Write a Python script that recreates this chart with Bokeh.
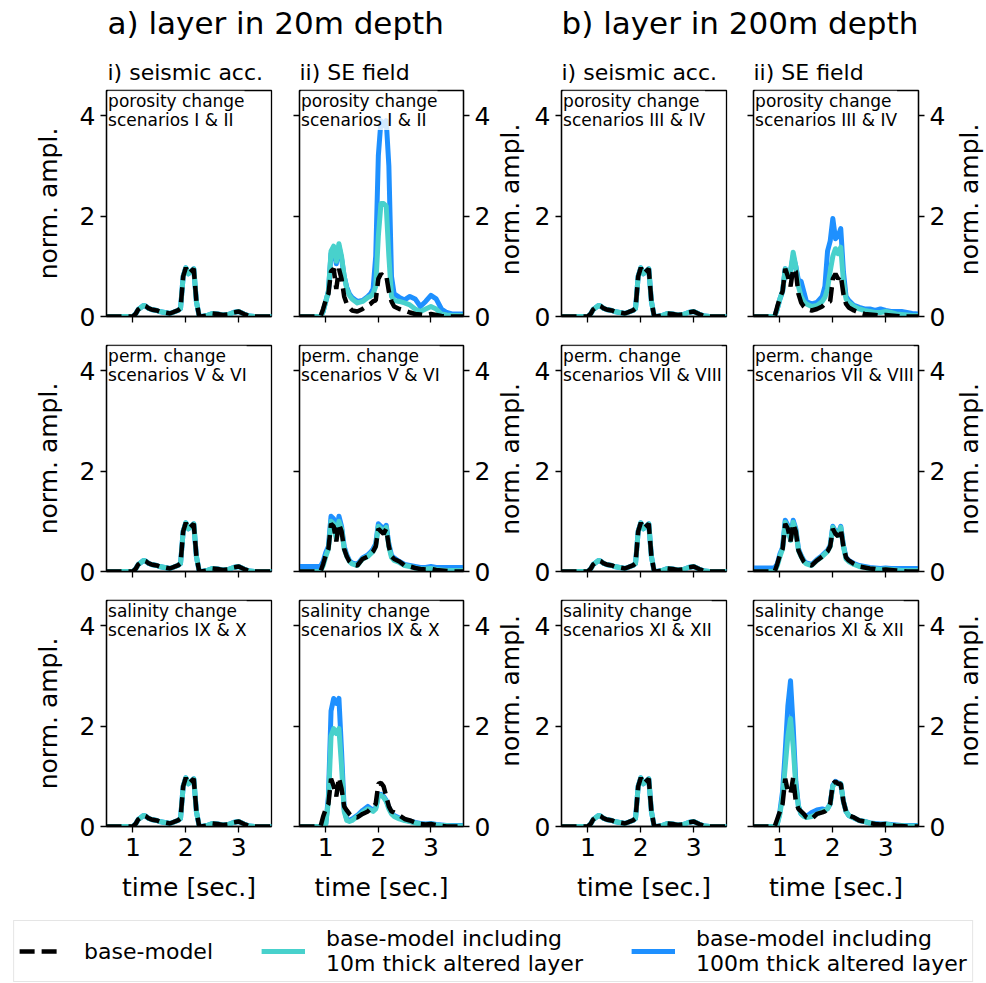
import math
from bokeh.plotting import figure
from bokeh.layouts import column, row
from bokeh.models import Range1d, FixedTicker, LinearAxis, Legend, LegendItem, Label
from bokeh.core.properties import value
from bokeh.embed import file_html
from bokeh.resources import INLINE

FONT = "DejaVu Sans"
BLUE = "#1e90ff"
TURQ = "#48d1cc"

# ---------------- data ----------------
T = [0.5, 0.9, 0.95, 1.0, 1.05, 1.1, 1.15, 1.2, 1.25, 1.3, 1.35, 1.4, 1.45, 1.5,
     1.6, 1.7, 1.8, 1.85, 1.9, 1.95, 2.0, 2.05, 2.1, 2.15, 2.2, 2.25, 2.3,
     2.4, 2.5, 2.6, 2.7, 2.8, 2.9, 3.0, 3.1, 3.2, 3.3, 3.4, 3.5, 3.62]

# seismic acceleration (all three models coincide)
SEIS_BASE = [0, 0, 0, 0, 0.05, 0.14, 0.18, 0.22, 0.2, 0.16, 0.14, 0.13, 0.12, 0.1,
             0.08, 0.06, 0.1, 0.12, 0.16, 0.8, 0.97, 0.85, 0.9, 0.95, 0.3, 0.02, 0.0,
             0.02, 0.06, 0.05, 0.03, 0.04, 0.08, 0.1, 0.05, 0.01, 0, 0, 0, 0]
SEIS_10M = SEIS_BASE
SEIS_100M = SEIS_BASE

# SE field, layer in 20 m depth
SE20_POR_BASE = [0, 0, 0.15, 0.33, 0.45, 0.9, 0.95, 0.55, 0.95, 0.75, 0.4, 0.25, 0.18, 0.12,
                 0.1, 0.15, 0.22, 0.25, 0.3, 0.32, 0.75, 0.85, 0.8, 0.82, 0.5, 0.3, 0.2,
                 0.15, 0.12, 0.08, 0.05, 0.04, 0.03, 0.05, 0.03, 0.01, 0, 0, 0, 0]
SE20_POR_10M = [0, 0, 0.1, 0.3, 0.5, 1.3, 1.4, 1.1, 1.45, 1.2, 0.8, 0.55, 0.42, 0.35,
                0.27, 0.3, 0.38, 0.4, 0.45, 0.6, 1.6, 2.25, 2.25, 2.2, 1.2, 0.4, 0.32,
                0.3, 0.27, 0.23, 0.15, 0.1, 0.15, 0.2, 0.15, 0.05, 0.03, 0.02, 0.02, 0.02]
SE20_POR_100M = [0, 0, 0.1, 0.3, 0.5, 1.25, 1.35, 1.05, 1.4, 1.15, 0.8, 0.58, 0.45, 0.38,
                 0.3, 0.32, 0.4, 0.45, 0.55, 1.2, 3.2, 3.9, 3.8, 3.9, 3.0, 0.8, 0.45,
                 0.38, 0.33, 0.4, 0.35, 0.2, 0.3, 0.42, 0.35, 0.15, 0.08, 0.05, 0.05, 0.05]

SE20_PERM_BASE = [0, 0, 0.15, 0.33, 0.45, 0.95, 0.9, 0.6, 0.95, 0.8, 0.45, 0.3, 0.2, 0.15,
                  0.12, 0.25, 0.3, 0.35, 0.4, 0.5, 0.85, 0.8, 0.75, 0.85, 0.5, 0.3, 0.25,
                  0.2, 0.12, 0.1, 0.07, 0.05, 0.04, 0.05, 0.03, 0.02, 0.01, 0, 0, 0]
SE20_PERM_10M = [0, 0, 0.12, 0.3, 0.45, 1.0, 0.95, 0.65, 1.0, 0.85, 0.45, 0.3, 0.2, 0.15,
                 0.12, 0.25, 0.3, 0.35, 0.4, 0.5, 0.9, 0.85, 0.8, 0.88, 0.5, 0.28, 0.22,
                 0.18, 0.12, 0.1, 0.07, 0.05, 0.05, 0.06, 0.04, 0.03, 0.02, 0.02, 0.02, 0.02]
SE20_PERM_100M = [0.1, 0.1, 0.2, 0.38, 0.5, 1.1, 1.05, 0.7, 1.1, 0.9, 0.5, 0.33, 0.22, 0.17,
                  0.14, 0.27, 0.33, 0.38, 0.45, 0.55, 0.95, 0.9, 0.85, 0.92, 0.55, 0.32, 0.27,
                  0.2, 0.14, 0.12, 0.1, 0.08, 0.08, 0.1, 0.08, 0.08, 0.08, 0.08, 0.08, 0.08]

SE20_SAL_BASE = [0, 0, 0.2, 0.35, 0.45, 0.95, 0.8, 0.6, 0.97, 0.75, 0.4, 0.32, 0.25, 0.2,
                 0.18, 0.25, 0.3, 0.35, 0.38, 0.45, 0.85, 0.87, 0.8, 0.6, 0.4, 0.3, 0.28,
                 0.22, 0.15, 0.12, 0.08, 0.05, 0.04, 0.05, 0.03, 0.01, 0, 0, 0, 0]
SE20_SAL_10M = [0, 0, 0, 0.05, 0.5, 1.8, 1.95, 1.85, 1.95, 1.2, 0.3, 0.12, 0.1, 0.12,
                0.2, 0.28, 0.35, 0.33, 0.3, 0.35, 0.6, 0.62, 0.58, 0.5, 0.35, 0.25, 0.2,
                0.15, 0.12, 0.1, 0.07, 0.05, 0.04, 0.05, 0.03, 0.02, 0.02, 0.01, 0.01, 0.01]
SE20_SAL_100M = [0, 0, 0, 0.05, 0.6, 2.3, 2.55, 2.45, 2.55, 1.5, 0.35, 0.14, 0.12, 0.15,
                 0.22, 0.32, 0.4, 0.36, 0.33, 0.37, 0.62, 0.64, 0.6, 0.52, 0.38, 0.27, 0.22,
                 0.17, 0.13, 0.11, 0.08, 0.06, 0.05, 0.06, 0.04, 0.03, 0.02, 0.02, 0.02, 0.02]

# SE field, layer in 200 m depth
SE200_POR_BASE = [0, 0, 0.2, 0.37, 0.5, 0.95, 0.8, 0.6, 0.95, 0.9, 0.45, 0.28, 0.2, 0.15,
                  0.12, 0.15, 0.2, 0.25, 0.28, 0.3, 0.75, 0.85, 0.75, 0.82, 0.45, 0.25, 0.18,
                  0.12, 0.08, 0.05, 0.04, 0.03, 0.02, 0.03, 0.02, 0.01, 0, 0, 0, 0]
SE200_POR_10M = [0, 0, 0.15, 0.35, 0.5, 0.95, 0.85, 0.9, 1.28, 1.0, 0.6, 0.4, 0.3, 0.25,
                 0.2, 0.22, 0.3, 0.38, 0.55, 0.9, 1.2, 1.35, 1.25, 1.38, 0.7, 0.35, 0.28,
                 0.2, 0.15, 0.12, 0.1, 0.08, 0.08, 0.1, 0.08, 0.05, 0.04, 0.03, 0.02, 0.02]
SE200_POR_100M = [0, 0, 0.15, 0.35, 0.5, 0.95, 0.85, 0.9, 1.2, 1.0, 0.72, 0.7, 0.5, 0.3,
                  0.25, 0.28, 0.4, 0.6, 1.3, 1.5, 1.95, 1.55, 1.6, 1.75, 0.9, 0.4, 0.32,
                  0.22, 0.18, 0.15, 0.15, 0.12, 0.15, 0.12, 0.1, 0.1, 0.1, 0.08, 0.06, 0.05]

SE200_PERM_BASE = [0, 0, 0.15, 0.33, 0.45, 0.95, 0.85, 0.6, 0.95, 0.8, 0.42, 0.3, 0.2, 0.15,
                   0.12, 0.22, 0.3, 0.35, 0.4, 0.5, 0.85, 0.75, 0.7, 0.85, 0.5, 0.28, 0.22,
                   0.15, 0.1, 0.08, 0.06, 0.05, 0.03, 0.04, 0.03, 0.02, 0.01, 0, 0, 0]
SE200_PERM_10M = [0, 0, 0.12, 0.3, 0.45, 0.98, 0.88, 0.62, 0.98, 0.82, 0.42, 0.3, 0.2, 0.15,
                  0.12, 0.22, 0.3, 0.35, 0.4, 0.5, 0.88, 0.78, 0.72, 0.88, 0.5, 0.25, 0.2,
                  0.14, 0.1, 0.08, 0.06, 0.05, 0.04, 0.05, 0.04, 0.03, 0.02, 0.02, 0.02, 0.02]
SE200_PERM_100M = [0.07, 0.07, 0.15, 0.35, 0.48, 1.02, 0.92, 0.65, 1.02, 0.85, 0.45, 0.32, 0.22, 0.17,
                   0.14, 0.24, 0.32, 0.37, 0.42, 0.52, 0.9, 0.8, 0.75, 0.9, 0.52, 0.28, 0.22,
                   0.16, 0.12, 0.1, 0.08, 0.07, 0.06, 0.07, 0.06, 0.06, 0.06, 0.06, 0.06, 0.06]

SE200_SAL_BASE = [0, 0, 0.15, 0.3, 0.45, 0.95, 0.7, 0.65, 0.97, 0.5, 0.35, 0.3, 0.25, 0.18,
                  0.15, 0.25, 0.28, 0.3, 0.35, 0.45, 0.85, 0.9, 0.85, 0.85, 0.5, 0.3, 0.22,
                  0.18, 0.12, 0.1, 0.07, 0.05, 0.04, 0.05, 0.03, 0.01, 0.01, 0, 0, 0]
SE200_SAL_10M = [0, 0, 0.05, 0.25, 0.6, 1.2, 1.8, 2.15, 1.6, 0.8, 0.4, 0.25, 0.2, 0.18,
                 0.2, 0.25, 0.3, 0.32, 0.35, 0.45, 0.8, 0.88, 0.85, 0.85, 0.5, 0.3, 0.22,
                 0.17, 0.12, 0.1, 0.07, 0.05, 0.04, 0.05, 0.03, 0.02, 0.02, 0.01, 0.01, 0.01]
SE200_SAL_100M = [0, 0, 0.05, 0.3, 0.7, 1.5, 2.4, 2.9, 2.0, 0.9, 0.4, 0.25, 0.22, 0.2,
                  0.28, 0.33, 0.35, 0.33, 0.36, 0.45, 0.82, 0.9, 0.87, 0.85, 0.5, 0.3, 0.22,
                  0.17, 0.12, 0.1, 0.07, 0.06, 0.05, 0.05, 0.04, 0.03, 0.02, 0.02, 0.02, 0.02]

X_TICKS = [1, 2, 3]
Y_TICKS = [0, 2, 4]
Y_LABEL = "norm. ampl."
X_LABEL = "time [sec.]"

NOTES_20 = ["porosity change\nscenarios I & II",
            "perm. change\nscenarios V & VI",
            "salinity change\nscenarios IX & X"]
NOTES_200 = ["porosity change\nscenarios III & IV",
             "perm. change\nscenarios VII & VIII",
             "salinity change\nscenarios XI & XII"]

TITLES = ["a) layer in 20m depth", "b) layer in 200m depth"]
SUBTITLES = ["i) seismic acc.", "ii) SE field", "i) seismic acc.", "ii) SE field"]
LEGEND_LABELS = ["base-model",
                 "base-model including\n10m thick altered layer",
                 "base-model including\n100m thick altered layer"]

# ---------------- layout constants ----------------
XR = (0.5, 3.62)
YR = (0.0, 4.5)
FW = [165, 164, 165, 165]
LB = [106, 14, 34, 14]
RB = [14, 30, 13, 34]
TB = [5, 15, 15]
BBD = [14, 14, 79]
FH = 226
LABEL_FIG_W = 34


def style_axis(ax, labels, axis_label=None):
    ax.major_tick_out = 6
    ax.major_tick_in = 0
    ax.minor_tick_line_color = None
    ax.axis_line_color = "black"
    ax.axis_line_width = 1.3
    ax.major_tick_line_color = "black"
    ax.major_tick_line_width = 1.3
    ax.major_label_text_font = FONT
    if labels:
        ax.major_label_text_font_size = "25px"
        ax.major_label_text_color = "black"
        ax.major_label_standoff = 5
    else:
        ax.major_label_text_font_size = "0px"
        ax.major_label_text_alpha = 0
        ax.major_label_standoff = 0
    if axis_label:
        ax.axis_label = axis_label
        ax.axis_label_text_font = FONT
        ax.axis_label_text_font_size = "25px"
        ax.axis_label_text_font_style = "normal"
        ax.axis_label_text_color = "black"
        ax.axis_label_standoff = 14


def ylabel_fig(ri):
    h = TB[ri] + FH + BBD[ri]
    f = figure(width=LABEL_FIG_W, height=h, x_range=Range1d(0, 1), y_range=Range1d(0, h),
               x_axis_location=None, y_axis_location=None, toolbar_location=None,
               output_backend="svg", min_border=0)
    f.outline_line_color = None
    f.xgrid.grid_line_color = None
    f.ygrid.grid_line_color = None
    f.add_layout(Label(x=0.5, y=BBD[ri] + FH / 2, text=Y_LABEL, angle=math.pi / 2,
                       text_font=FONT, text_font_size="25px", text_color="black",
                       text_align="center", text_baseline="middle"))
    return f


def panel(ci, ri, base, ten, hund, note):
    p = figure(frame_width=FW[ci], frame_height=FH,
               min_border_left=LB[ci], min_border_right=RB[ci],
               min_border_top=TB[ri], min_border_bottom=BBD[ri],
               x_range=Range1d(*XR), y_range=Range1d(*YR),
               x_axis_location=None, y_axis_location=None,
               toolbar_location=None, output_backend="svg")
    p.xgrid.grid_line_color = None
    p.ygrid.grid_line_color = None
    p.outline_line_color = "black"
    p.outline_line_width = 1.3
    p.background_fill_color = "white"
    p.border_fill_color = "white"

    p.line(T, hund, line_color=BLUE, line_width=5, line_join="round")
    p.line(T, ten, line_color=TURQ, line_width=5, line_join="round")
    p.line(T, base, line_color="black", line_width=4.5, line_dash="15 7")

    bx = LinearAxis(ticker=FixedTicker(ticks=X_TICKS))
    style_axis(bx, ri == 2, X_LABEL if ri == 2 else None)
    p.add_layout(bx, "below")

    ly = LinearAxis(ticker=FixedTicker(ticks=Y_TICKS))
    style_axis(ly, ci in (0, 2), Y_LABEL if ci == 0 else None)
    p.add_layout(ly, "left")

    if ci in (1, 3):
        ry = LinearAxis(ticker=FixedTicker(ticks=Y_TICKS))
        style_axis(ry, True, None)
        p.add_layout(ry, "right")

    p.add_layout(Label(x=0.53, y=4.5, text=note, text_font=FONT,
                       text_font_size="17px", text_color="black",
                       text_align="left", text_baseline="top",
                       text_line_height=0.98,
                       background_fill_color="white", background_fill_alpha=0.8))
    return p


data = [
    [(SEIS_BASE, SEIS_10M, SEIS_100M), (SE20_POR_BASE, SE20_POR_10M, SE20_POR_100M),
     (SEIS_BASE, SEIS_10M, SEIS_100M), (SE200_POR_BASE, SE200_POR_10M, SE200_POR_100M)],
    [(SEIS_BASE, SEIS_10M, SEIS_100M), (SE20_PERM_BASE, SE20_PERM_10M, SE20_PERM_100M),
     (SEIS_BASE, SEIS_10M, SEIS_100M), (SE200_PERM_BASE, SE200_PERM_10M, SE200_PERM_100M)],
    [(SEIS_BASE, SEIS_10M, SEIS_100M), (SE20_SAL_BASE, SE20_SAL_10M, SE20_SAL_100M),
     (SEIS_BASE, SEIS_10M, SEIS_100M), (SE200_SAL_BASE, SE200_SAL_10M, SE200_SAL_100M)],
]

rows = []
for ri in range(3):
    figs = []
    for ci in range(4):
        note = NOTES_20[ri] if ci < 2 else NOTES_200[ri]
        b, t, h = data[ri][ci]
        if ci == 2:
            figs.append(ylabel_fig(ri))
        figs.append(panel(ci, ri, b, t, h, note))
    figs.append(ylabel_fig(ri))
    rows.append(row(*figs))

# ---------------- header ----------------
hdr = figure(width=986, height=85, x_range=Range1d(0, 986), y_range=Range1d(0, 85),
             x_axis_location=None, y_axis_location=None, toolbar_location=None,
             output_backend="svg", min_border=0)
hdr.outline_line_color = None
hdr.xgrid.grid_line_color = None
hdr.ygrid.grid_line_color = None
for xs, s in zip([107, 561], TITLES):
    hdr.add_layout(Label(x=xs, y=63, text=s, text_font=FONT, text_font_size="31px",
                         text_align="left", text_baseline="middle", text_color="black"))
for xs, s in zip([107, 299, 561, 753], SUBTITLES):
    hdr.add_layout(Label(x=xs, y=13, text=s, text_font=FONT, text_font_size="22px",
                         text_align="left", text_baseline="middle", text_color="black"))

# ---------------- legend ----------------
lg = figure(width=986, height=78, x_range=Range1d(100, 101), y_range=Range1d(100, 101),
            x_axis_location=None, y_axis_location=None, toolbar_location=None,
            output_backend="svg", min_border=0)
lg.outline_line_color = None
lg.xgrid.grid_line_color = None
lg.ygrid.grid_line_color = None
r0 = lg.line(T, SEIS_BASE, line_color="black", line_width=4.5, line_dash="15 7")
r1 = lg.line(T, SEIS_10M, line_color=TURQ, line_width=5)
r2 = lg.line(T, SEIS_100M, line_color=BLUE, line_width=5)
legend = Legend(items=[LegendItem(label=value(LEGEND_LABELS[0]), renderers=[r0]),
                       LegendItem(label=value(LEGEND_LABELS[1]), renderers=[r1]),
                       LegendItem(label=value(LEGEND_LABELS[2]), renderers=[r2])],
                orientation="horizontal", location="bottom_center",
                label_text_font=FONT, label_text_font_size="22px",
                label_text_color="black", label_text_line_height=1.02,
                glyph_width=44, glyph_height=20, label_standoff=21, spacing=48,
                padding=5, margin=1, border_line_color="#cccccc", border_line_width=1.5,
                background_fill_color="white", background_fill_alpha=1.0)
lg.add_layout(legend, "center")

layout = column(hdr, rows[0], rows[1], rows[2], lg)

open("out.html", "w").write(file_html(layout, INLINE))
